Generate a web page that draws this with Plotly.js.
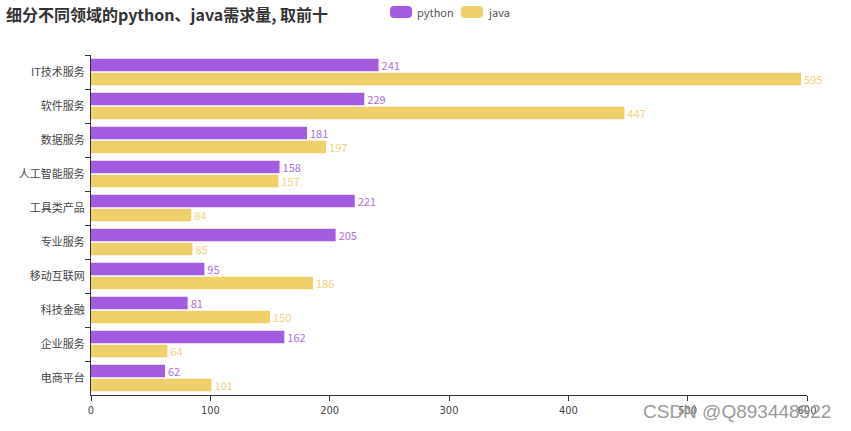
<!DOCTYPE html>
<html>
<head>
<meta charset="utf-8">
<script src="https://cdn.plot.ly/plotly-3.0.1.min.js"></script>
<style>
  html, body { margin: 0; padding: 0; background: #fff; }
  #chart { width: 851px; height: 431px; }
</style>
</head>
<body>
<div id="chart"></div>
<script>
// Top ten sectors by job postings
const categories = ['IT技术服务', '软件服务', '数据服务', '人工智能服务', '工具类产品',
                    '专业服务', '移动互联网', '科技金融', '企业服务', '电商平台'];
const pythonCounts = [241, 229, 181, 158, 221, 205, 95, 81, 162, 62];
const javaCounts   = [595, 447, 197, 157, 84, 85, 186, 150, 64, 101];
const xTicks = [0, 100, 200, 300, 400, 500, 600];

const PURPLE = '#a35be0';
const YELLOW = '#efcf6a';
const CJK = '"Noto Sans CJK SC", "Noto Sans", sans-serif';

function barTrace(name, values, color, labelColor) {
  return {
    type: 'bar',
    orientation: 'h',
    name: name,
    y: categories,
    x: values,
    text: values.map(String),
    textposition: 'outside',
    constraintext: 'none',
    cliponaxis: false,
    textfont: { family: CJK, size: 11, color: labelColor },
    marker: { color: color, line: { width: 0 } },
    hoverinfo: 'x+name',
    showlegend: false
  };
}

const data = [
  barTrace('python', pythonCounts, PURPLE, '#ad6fe4'),
  barTrace('java', javaCounts, YELLOW, '#f0d27a')
];

const W = 851, H = 431;
const m = { l: 91, r: 44, t: 55, b: 36 };
const pw = W - m.l - m.r, ph = H - m.t - m.b;
// pixel -> paper coordinates
const px = x => (x - m.l) / pw;
const py = y => 1 - (y - m.t) / ph;

// rounded swatch for the custom legend
function swatchPath(x0, y0, w, h, r) {
  const X = v => px(v), Y = v => py(v);
  return `M${X(x0 + r)},${Y(y0)} L${X(x0 + w - r)},${Y(y0)} ` +
         `Q${X(x0 + w)},${Y(y0)} ${X(x0 + w)},${Y(y0 + r)} L${X(x0 + w)},${Y(y0 + h - r)} ` +
         `Q${X(x0 + w)},${Y(y0 + h)} ${X(x0 + w - r)},${Y(y0 + h)} L${X(x0 + r)},${Y(y0 + h)} ` +
         `Q${X(x0)},${Y(y0 + h)} ${X(x0)},${Y(y0 + h - r)} L${X(x0)},${Y(y0 + r)} ` +
         `Q${X(x0)},${Y(y0)} ${X(x0 + r)},${Y(y0)} Z`;
}

const legendItems = [
  { name: 'python', color: PURPLE, x: 390 },
  { name: 'java', color: YELLOW, x: 461 }
];

const shapes = legendItems.map(it => ({
  type: 'path', xref: 'paper', yref: 'paper',
  path: swatchPath(it.x, 6, 22, 12, 4),
  fillcolor: it.color, line: { width: 0 }
}));

const annotations = legendItems.map(it => ({
  xref: 'paper', yref: 'paper', x: px(it.x + 25), y: py(12),
  xanchor: 'left', yanchor: 'middle', showarrow: false,
  text: it.name, font: { family: CJK, size: 11, color: '#555' }
}));

annotations.push({
  xref: 'paper', yref: 'paper', x: px(4), y: py(14),
  xanchor: 'left', yanchor: 'middle', showarrow: false,
  text: '<b>细分不同领域的python、java需求量, 取前十</b>',
  font: { family: CJK, size: 16, color: '#333' }
});

annotations.push({
  xref: 'paper', yref: 'paper', x: px(641), y: py(411),
  xanchor: 'left', yanchor: 'middle', showarrow: false,
  text: 'CSDN @Q893448522',
  font: { family: '"Liberation Sans", Arial, sans-serif', size: 19, color: '#9a9a9a' }
});

const layout = {
  width: W, height: H,
  margin: m,
  paper_bgcolor: '#fff', plot_bgcolor: '#fff',
  barmode: 'group', bargap: 0.18, bargroupgap: 0.1,
  showlegend: false,
  xaxis: {
    range: [0, 600], tickvals: xTicks, ticktext: xTicks.map(String),
    showgrid: false, zeroline: false,
    showline: true, linecolor: '#333', linewidth: 1,
    ticks: 'outside', ticklen: 5, tickcolor: '#333',
    tickfont: { family: '"Liberation Sans Narrow", "DejaVu Sans Condensed", sans-serif', size: 11, color: '#444' },
    fixedrange: true
  },
  yaxis: {
    type: 'category', autorange: 'reversed',
    showgrid: false, zeroline: false,
    showline: true, linecolor: '#333', linewidth: 1,
    ticks: 'outside', ticklen: 5, tickcolor: '#333',
    tickson: 'boundaries',
    tickfont: { family: CJK, size: 11, color: '#444' },
    ticklabelstandoff: 3,
    fixedrange: true
  },
  shapes: shapes,
  annotations: annotations,
  font: { family: CJK }
};

Plotly.newPlot('chart', data, layout, { displayModeBar: false });
</script>
</body>
</html>
